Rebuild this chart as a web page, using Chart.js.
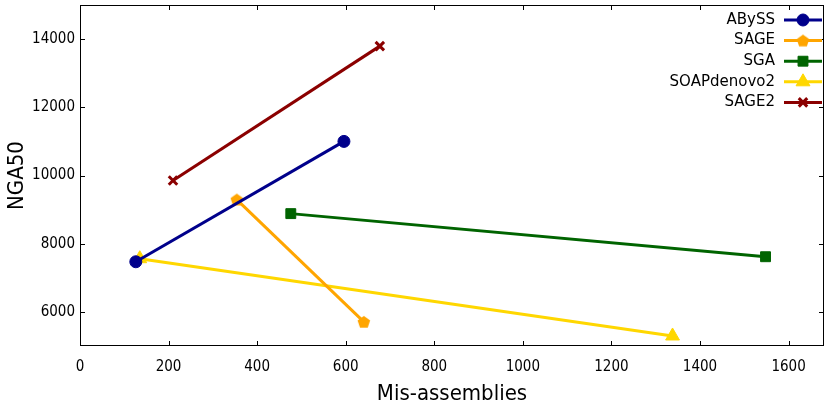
<!DOCTYPE html>
<html>
<head>
<meta charset="utf-8">
<script src="https://cdn.jsdelivr.net/npm/chart.js@4"></script>
<style>
  html, body { margin: 0; padding: 0; background: #fff; }
  #wrap { width: 825px; height: 407px; }
</style>
</head>
<body>
<div id="wrap"><canvas id="myChart" width="825" height="407"></canvas></div>
<script>
'use strict';

let names = ['ABySS', 'SAGE', 'SGA', 'SOAPdenovo2', 'SAGE2'];
let colors = ['#00008b', '#ffa500', '#006400', '#ffd700', '#8b0000'];

// [mis-assemblies, NGA50] pairs for each tool
let abyss = [[126, 7470], [596, 11000]];
let sage = [[354, 9294], [641, 5706]];
let sga = [[476, 8882], [1548, 7618]];
let soap = [[135, 7560], [1338, 5294]];
let sage2 = [[210, 9853], [677, 13794]];

let xTicks = [0, 200, 400, 600, 800, 1000, 1200, 1400, 1600];
let yTicks = [6000, 8000, 10000, 12000, 14000];

function pentagon(color) {
    let c = document.createElement('canvas');
    c.width = 14;
    c.height = 14;
    let g = c.getContext('2d');
    g.fillStyle = color;
    g.beginPath();
    for (let i = 0; i < 5; i++) {
        let a = -Math.PI / 2 + i * 2 * Math.PI / 5;
        let px = 7 + 6.6 * Math.cos(a);
        let py = 7.5 + 6.6 * Math.sin(a);
        if (i === 0) g.moveTo(px, py); else g.lineTo(px, py);
    }
    g.closePath();
    g.fill();
    return c;
}

let styles = [
    { pointStyle: 'circle', radius: 6 },
    { pointStyle: pentagon(colors[1]), radius: 7 },
    { pointStyle: 'rect', radius: 7 },
    { pointStyle: 'triangle', radius: 8 },
    { pointStyle: 'crossRot', radius: 6 }
];

let series = [abyss, sage, sga, soap, sage2];

let datasets = series.map(function (s, i) {
    return {
        label: names[i],
        data: s.map(function (p) { return { x: p[0], y: p[1] }; }),
        borderColor: colors[i],
        backgroundColor: colors[i],
        borderWidth: 3,
        pointStyle: styles[i].pointStyle,
        pointRadius: styles[i].radius,
        pointBorderWidth: i === 4 ? 3 : 1,
        showLine: true,
        tension: 0
    };
});

let tickFont = { family: '"DejaVu Sans Condensed", "DejaVu Sans"', size: 15 };
let titleFont = { family: '"DejaVu Sans Condensed", "DejaVu Sans"', size: 22 };

let boxPlugin = {
    id: 'boxPlugin',
    afterDraw: function (chart) {
        let ctx = chart.ctx;
        let a = chart.chartArea;
        let xs = chart.scales.x;
        let ys = chart.scales.y;
        ctx.save();
        ctx.strokeStyle = '#000';
        ctx.lineWidth = 1;
        ctx.strokeRect(a.left + 0.5, a.top + 0.5, a.right - a.left - 1, a.bottom - a.top - 1);
        ctx.beginPath();
        xTicks.forEach(function (v) {
            let px = Math.round(xs.getPixelForValue(v)) + 0.5;
            ctx.moveTo(px, a.bottom);
            ctx.lineTo(px, a.bottom - 5);
            ctx.moveTo(px, a.top);
            ctx.lineTo(px, a.top + 5);
        });
        yTicks.forEach(function (v) {
            let py = Math.round(ys.getPixelForValue(v)) + 0.5;
            ctx.moveTo(a.left, py);
            ctx.lineTo(a.left + 5, py);
            ctx.moveTo(a.right, py);
            ctx.lineTo(a.right - 5, py);
        });
        ctx.stroke();

        // legend, text on the left of the sample line
        ctx.font = '15px "DejaVu Sans"';
        ctx.textAlign = 'right';
        ctx.textBaseline = 'middle';
        chart.data.datasets.forEach(function (ds, i) {
            let y = 20 + i * 20.6;
            ctx.fillStyle = '#000';
            ctx.fillText(ds.label, 775, y);
            ctx.strokeStyle = ds.borderColor;
            ctx.lineWidth = 3;
            ctx.beginPath();
            ctx.moveTo(784, y);
            ctx.lineTo(822, y);
            ctx.stroke();
            ctx.fillStyle = ds.backgroundColor;
            ctx.lineWidth = ds.pointBorderWidth;
            Chart.helpers.drawPoint(ctx, {
                pointStyle: ds.pointStyle,
                radius: ds.pointRadius,
                borderWidth: ds.pointBorderWidth,
                rotation: 0
            }, 803, y);
        });
        ctx.restore();
    }
};

let ctx = document.getElementById('myChart').getContext('2d');
let myChart = new Chart(ctx, {
    type: 'scatter',
    data: { datasets: datasets },
    options: {
        responsive: false,
        animation: false,
        layout: { autoPadding: false, padding: { top: 5, right: 1, left: 0, bottom: 0 } },
        plugins: {
            legend: { display: false },
            tooltip: { enabled: false }
        },
        scales: {
            x: {
                type: 'linear',
                min: 0,
                max: 1680,
                afterBuildTicks: function (axis) {
                    axis.ticks = xTicks.map(function (v) { return { value: v }; });
                },
                afterFit: function (axis) {
                    axis.height = 61;
                    axis.paddingLeft = 0;
                    axis.paddingRight = 0;
                },
                grid: { display: false, drawTicks: false },
                border: { display: false },
                ticks: {
                    padding: 12,
                    color: '#000',
                    maxRotation: 0,
                    font: tickFont,
                    callback: function (v) { return String(v); }
                },
                title: {
                    display: true,
                    text: 'Mis-assemblies',
                    color: '#000',
                    padding: { top: 4, bottom: 0 },
                    font: titleFont
                }
            },
            y: {
                type: 'linear',
                min: 5000,
                max: 15000,
                afterBuildTicks: function (axis) {
                    axis.ticks = yTicks.map(function (v) { return { value: v }; });
                },
                afterFit: function (axis) {
                    axis.width = 80;
                    axis.paddingTop = 0;
                    axis.paddingBottom = 0;
                },
                grid: { display: false, drawTicks: false },
                border: { display: false },
                ticks: {
                    padding: 5,
                    color: '#000',
                    font: tickFont,
                    callback: function (v) { return String(v); }
                },
                title: {
                    display: true,
                    text: 'NGA50',
                    color: '#000',
                    padding: { bottom: 2 },
                    font: titleFont
                }
            }
        }
    },
    plugins: [boxPlugin]
});
</script>
</body>
</html>
